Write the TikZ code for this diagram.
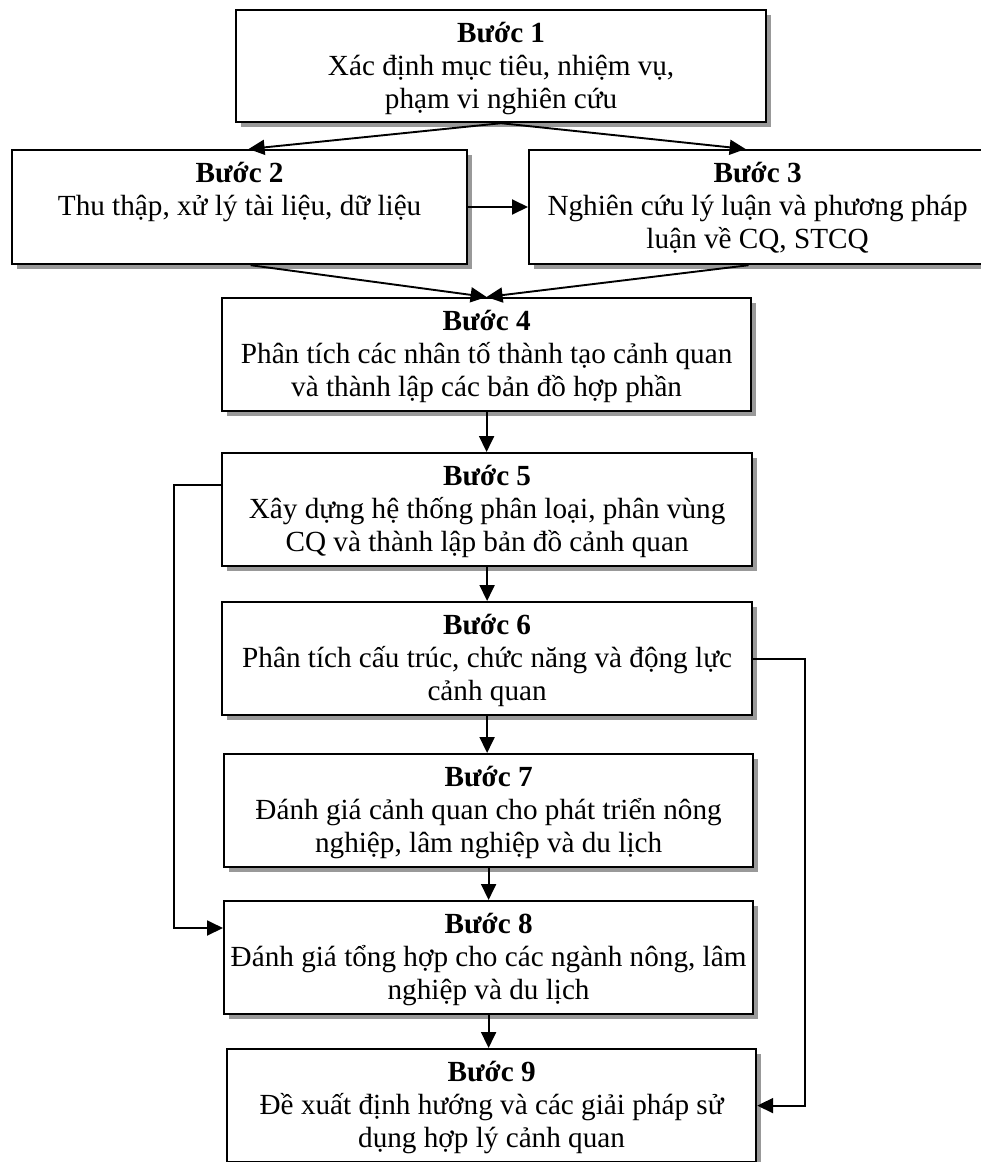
\documentclass[tikz,border=0pt]{standalone}
\usepackage{fontspec}
\setmainfont{Liberation Serif}
\usetikzlibrary{arrows.meta,shadows,calc}
\newcommand\steptext[3]{\parbox[c][#2pt][t]{#1pt}{\centering\rule{0pt}{32pt}#3}}
\begin{document}
\begin{tikzpicture}[x=1pt,y=-1pt,
  stepbox/.style={draw, line width=2.2pt, fill=white, inner sep=0pt, anchor=north west,
    font=\fontsize{29.2}{33}\selectfont,
    drop shadow={shadow xshift=5pt, shadow yshift=-5pt, fill=black!40, opacity=1}},
  conn/.style={line width=1.9pt, -{Triangle[length=16pt,width=15pt]}}]
\fill[white] (0,0) rectangle (981,1162);
\useasboundingbox (0,0) rectangle (981,1162);

\node[stepbox] (b1) at (235,9) {\steptext{530}{112}{\textbf{Bước 1}\\Xác định mục tiêu, nhiệm vụ,\\phạm vi nghiên cứu}};
\node[stepbox] (b2) at (11,149) {\steptext{455}{114}{\textbf{Bước 2}\\Thu thập, xử lý tài liệu, dữ liệu}};
\node[stepbox] (b3) at (528,149) {\steptext{457}{114}{\textbf{Bước 3}\\Nghiên cứu lý luận và phương pháp\\luận về CQ, STCQ}};
\node[stepbox] (b4) at (221,297) {\steptext{529}{113}{\textbf{Bước 4}\\Phân tích các nhân tố thành tạo cảnh quan\\và thành lập các bản đồ hợp phần}};
\node[stepbox] (b5) at (221,452) {\steptext{530}{113}{\textbf{Bước 5}\\Xây dựng hệ thống phân loại, phân vùng\\CQ và thành lập bản đồ cảnh quan}};
\node[stepbox] (b6) at (221,601) {\steptext{530}{113}{\textbf{Bước 6}\\Phân tích cấu trúc, chức năng và động lực\\cảnh quan}};
\node[stepbox] (b7) at (223,753) {\steptext{529}{113}{\textbf{Bước 7}\\Đánh giá cảnh quan cho phát triển nông\\nghiệp, lâm nghiệp và du lịch}};
\node[stepbox] (b8) at (223,900) {\steptext{529}{113}{\textbf{Bước 8}\\Đánh giá tổng hợp cho các ngành nông, lâm\\nghiệp và du lịch}};
\node[stepbox] (b9) at (226,1048) {\steptext{529}{113}{\textbf{Bước 9}\\Đề xuất định hướng và các giải pháp sử\\dụng hợp lý cảnh quan}};

\draw[conn] (b1.south) -- ([xshift=9pt]b2.north);
\draw[conn] (b1.south) -- ([xshift=-12pt]b3.north);
\draw[conn] ($(b2.north east)+(0,58)$) -- ($(b3.north west)+(0,58)$);
\draw[conn] ([xshift=11pt]b2.south) -- (b4.north);
\draw[conn] ([xshift=-9pt]b3.south) -- (b4.north);
\draw[conn] (b4.south) -- (b4.south |- b5.north);
\draw[conn] (b5.south) -- (b5.south |- b6.north);
\draw[conn] (b6.south) -- (b6.south |- b7.north);
\draw[conn] (b7.south) -- (b7.south |- b8.north);
\draw[conn] (b8.south) -- (b8.south |- b9.north);
\coordinate (l1) at ($(b5.north west)+(0,33)$);
\coordinate (l2) at ($(b8.north west)+(0,28)$);
\draw[conn] (l1) -- ++(-47,0) |- (l2);
\draw[conn] (b6.east) -- ++(52,0) |- (b9.east);
\end{tikzpicture}
\end{document}
